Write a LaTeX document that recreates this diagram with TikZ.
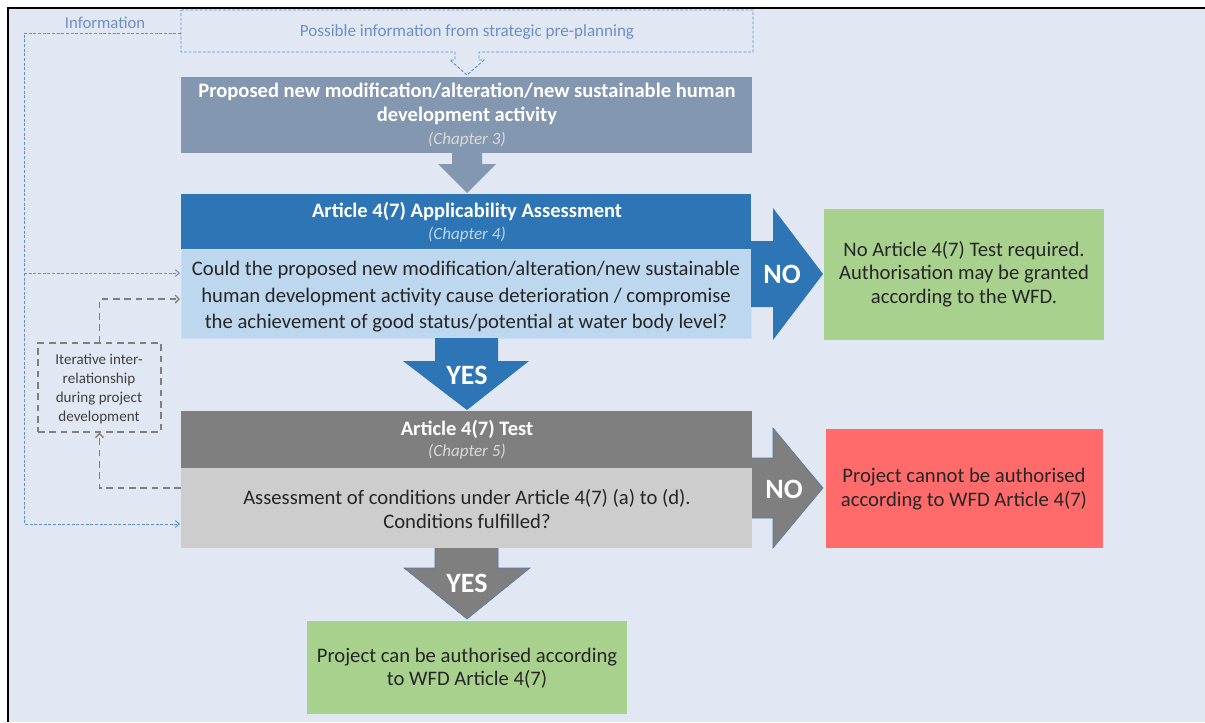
\documentclass[tikz,border=0pt]{standalone}
\usepackage{fontspec}
\setmainfont{Carlito}
\usetikzlibrary{arrows.meta,fit}
\definecolor{bg}{HTML}{E1E8F4}
\definecolor{infoblue}{HTML}{5B8FD0}
\definecolor{infotext}{HTML}{6C8FC4}
\definecolor{slate}{HTML}{8497B0}
\definecolor{darkblue}{HTML}{2E75B6}
\definecolor{lightblue}{HTML}{BDD7EE}
\definecolor{darkgray}{HTML}{7F7F7F}
\definecolor{lightgray}{HTML}{CDCDCD}
\definecolor{okgreen}{HTML}{A9D18E}
\definecolor{badred}{HTML}{FF6B6B}
\definecolor{chapgray}{HTML}{D9D9D9}
\definecolor{arrowedge}{HTML}{4F78A8}
\begin{document}
\begin{tikzpicture}[x=0.75pt,y=-0.75pt,
  box/.style={inner sep=0pt, draw=none},
  title/.style={text=white, font=\fontsize{15.4}{18}\selectfont\bfseries, align=center, inner sep=0pt},
  chap/.style={font=\fontsize{12.8}{14}\selectfont\itshape, inner sep=0pt},
  body/.style={text=black!85, font=\fontsize{15.5}{19.9}\selectfont, align=center, inner sep=0pt},
  res/.style={text=black!85, font=\fontsize{15.5}{17.6}\selectfont, align=center, inner sep=0pt},
  big/.style={text=white, font=\fontsize{21}{24}\selectfont\bfseries, inner sep=0pt},
  infoline/.style={draw=infoblue, line width=0.7pt, dash pattern=on 2.2pt off 1.3pt},
  infoarrow/.style={infoline, -{Straight Barb[length=3pt,width=5pt]}},
  iterline/.style={draw=darkgray, line width=1.1pt, dash pattern=on 5pt off 3.5pt},
  iterarrow/.style={iterline, -{Straight Barb[length=3pt,width=6pt,line width=1pt]}},
  blockarrow/.style={draw=arrowedge, line width=0.4pt}
]
\useasboundingbox (0,0) rectangle (1205,722);
\fill[white] (0,0) rectangle (1205,722);
\fill[bg] (8,8) rectangle (1205,722);
\draw[black, line width=1.6pt] (8,722) -- (8,8) -- (1205,8);

% top dashed pre-planning box with notch arrow
\draw[infoline] (181,10) -- (753,10) -- (753,52) -- (479,52) -- (479,60) -- (484,60)
  -- (467,75) -- (450,60) -- (455,60) -- (455,52) -- (181,52) -- cycle;
\node[text=infotext, font=\fontsize{12.8}{14}\selectfont, inner sep=0pt] (pre) at (467,32) {Possible information from strategic pre-planning};
\node[text=infotext, font=\fontsize{12.5}{14}\selectfont, inner sep=0pt] (info) at (105,23) {Information};
\coordinate (preL) at (181,33);

% box 1
\node[box, fill=slate, fit={(181,77)(752,153)}] (b1) {};
\node[title] (b1t) at (467,104) {Proposed new modification/alteration/new sustainable human\\development activity};
\node[chap, text=chapgray] (b1c) at (467,140) {(Chapter 3)};

% arrow b1 -> b2
\fill[slate] (452,153) -- (482,153) -- (482,164) -- (496,164) -- (467,193) -- (438,164) -- (452,164) -- cycle;

% box 2
\node[box, fill=darkblue, fit={(181,194)(751,249)}] (b2) {};
\node[box, fill=lightblue, draw=lightblue!80!white, fit={(181,249)(751,338)}] (q2) {};
\node[title] (b2t) at (467,211) {Article 4(7) Applicability Assessment};
\node[chap, text=lightblue] (b2c) at (467,235) {(Chapter 4)};
\node[body] (q2t) at (466,297) {Could the proposed new modification/alteration/new sustainable\\human development activity cause deterioration / compromise\\the achievement of good status/potential at water body level?};

% NO arrow blue
\fill[darkblue] (751,241) -- (773,241) -- (773,208) -- (823,274) -- (773,340) -- (773,307) -- (751,307) -- cycle;
\node[big] (no1) at (782,274) {NO};

% green result 1
\node[box, fill=okgreen, fit={(824,209)(1104,340)}] (g1) {};
\node[res] (g1t) at (964,274) {No Article 4(7) Test required.\\Authorisation may be granted\\according to the WFD.};

% YES arrow blue
\fill[darkblue] (435,338) -- (498,338) -- (498,361) -- (529,361) -- (467,410) -- (403,361) -- (435,361) -- cycle;
\node[big] (yes1) at (467,375) {YES};

% box 3
\node[box, fill=darkgray, fit={(181,411)(752,468)}] (b3) {};
\node[box, fill=lightgray, fit={(181,468)(752,548)}] (q3) {};
\node[title] (b3t) at (467,429) {Article 4(7) Test};
\node[chap, text=chapgray] (b3c) at (467,452) {(Chapter 5)};
\node[body, font=\fontsize{15.5}{18}\selectfont] (q3t) at (467,509) {Assessment of conditions under Article 4(7) (a) to (d).\\Conditions fulfilled?};

% NO arrow gray
\filldraw[fill=darkgray, blockarrow] (752,458) -- (773,458) -- (773,428) -- (823,488) -- (773,548) -- (773,518) -- (752,518);
\node[big] (no2) at (784,489) {NO};

% red result
\node[box, fill=badred, fit={(826,429)(1103,548)}] (r1) {};
\node[res] (r1t) at (964,489) {Project cannot be authorised\\according to WFD Article 4(7)};

% YES arrow gray
\filldraw[fill=darkgray, blockarrow] (435,548) -- (435,568) -- (404,568) -- (467,619) -- (530,568) -- (498,568) -- (498,548);
\node[big] (yes2) at (467,583) {YES};

% green result 2
\node[box, fill=okgreen, fit={(307,621)(627,714)}] (g2) {};
\node[res] (g2t) at (467,668) {Project can be authorised according\\to WFD Article 4(7)};

% information connectors
\coordinate (in1) at (180,273);
\coordinate (in2) at (180,524);
\coordinate (infoTurn) at (24,33);
\coordinate (infoMid) at (24,273);
\draw[infoline] (preL) -- (infoTurn) -- (infoMid);
\draw[infoarrow] (infoMid) -- (in1);
\draw[infoarrow] (infoMid) |- (in2);

% iterative box
\node[draw=darkgray, line width=1.1pt, dash pattern=on 5pt off 3.5pt, fit={(38,343)(161,432)}, inner sep=0pt] (it) {};
\node[text=black!75, font=\fontsize{11.3}{14.2}\selectfont, align=center, inner sep=0pt] (itt) at (99,389) {Iterative inter-\\relationship\\during project\\development};
\coordinate (q3L) at (181,488);
\coordinate (q2L) at (180,299);
\draw[iterarrow] (q3L) -| (it.south);
\draw[iterarrow] (it.north) |- (q2L);
\end{tikzpicture}
\end{document}
